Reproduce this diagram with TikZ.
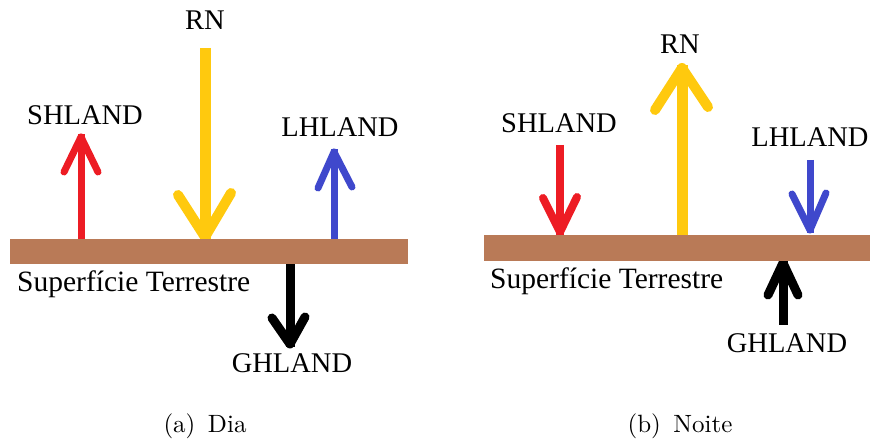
\documentclass[tikz,border=0pt]{standalone}
\usepackage{fontspec}
\newfontfamily\paintfont{Liberation Serif}
\definecolor{soil}{HTML}{B97A57}
\definecolor{fluxred}{HTML}{ED1C24}
\definecolor{fluxyellow}{HTML}{FFC90E}
\definecolor{fluxblue}{HTML}{3F48CC}
\begin{document}
\begin{tikzpicture}[x=1pt,y=-1pt,
  shaft/.style={line width=#1, line cap=butt},
  barbs/.style={line width=#1, line cap=round, line join=round},
  lbl/.style={font=\paintfont\fontsize{28.5}{30}\selectfont, anchor=base, inner sep=0pt},
  surf/.style={font=\paintfont\fontsize{29.5}{31}\selectfont, anchor=base west, inner sep=0pt},
  capt/.style={font=\fontsize{10}{12}\selectfont, scale=2.5, anchor=base, inner sep=0pt}]
\useasboundingbox (0,0) rectangle (870,443);

% ---------- (a) day ----------
% sensible heat, upward
\coordinate (sa0) at (81,239); \coordinate (sa1) at (81,137);
\draw[fluxred, shaft=7] (sa0) -- ([yshift=3]sa1);
\draw[fluxred, barbs=7] (64,172) -- (sa1) -- (98,172);
% net radiation, downward
\coordinate (ra0) at (205,48); \coordinate (ra1) at (205,237);
\draw[fluxyellow, shaft=11] (ra0) -- ([yshift=-3]ra1);
\draw[fluxyellow, barbs=10] (178,195) -- (ra1) -- (231,193);
% latent heat, upward
\coordinate (la0) at (334,239); \coordinate (la1) at (334,152);
\draw[fluxblue, shaft=7] (la0) -- ([yshift=3]la1);
\draw[fluxblue, barbs=7] (318,188) -- (la1) -- (352,187);
% ground heat, downward
\coordinate (ga0) at (290,262); \coordinate (ga1) at (290,344);
\draw[black, shaft=9] (ga0) -- ([yshift=-3]ga1);
\draw[black, barbs=9] (272,318) -- (ga1) -- (305,317);
% surface
\fill[soil] (10,239) rectangle (408,264);
\node[surf] (surfa) at (17,292) {Superfície Terrestre};
\node[lbl] (sha) at (85,125) {SHLAND};
\node[lbl] (rna) at (205,30) {RN};
\node[lbl] (lha) at (340,137) {LHLAND};
\node[lbl] (gha) at (292,373) {GHLAND};
\node[capt] (capa) at (205,432) {(a)\enspace Dia};

% ---------- (b) night ----------
% sensible heat, downward
\coordinate (sb0) at (560,145); \coordinate (sb1) at (560,232);
\draw[fluxred, shaft=8] (sb0) -- ([yshift=-3]sb1);
\draw[fluxred, barbs=8] (543,198) -- (sb1) -- (577,197);
% net radiation, upward
\coordinate (rb0) at (682,237); \coordinate (rb1) at (682,68);
\draw[fluxyellow, shaft=11] (rb0) -- ([yshift=3]rb1);
\draw[fluxyellow, barbs=10] (655,110) -- (rb1) -- (708,107);
% latent heat, downward
\coordinate (lb0) at (810,160); \coordinate (lb1) at (810,230);
\draw[fluxblue, shaft=7] (lb0) -- ([yshift=-3]lb1);
\draw[fluxblue, barbs=7] (792,194) -- (lb1) -- (826,193);
% ground heat, upward
\coordinate (gb0) at (783,325); \coordinate (gb1) at (783,263);
\draw[black, shaft=9] (gb0) -- ([yshift=3]gb1);
\draw[black, barbs=9] (768,295) -- (gb1) -- (798,295);
% surface
\fill[soil] (484,235) rectangle (870,261);
\node[surf] (surfb) at (490,289) {Superfície Terrestre};
\node[lbl] (shb) at (559,133) {SHLAND};
\node[lbl] (rnb) at (680,54) {RN};
\node[lbl] (lhb) at (810,147) {LHLAND};
\node[lbl] (ghb) at (787,353) {GHLAND};
\node[capt] (capb) at (680,432) {(b)\enspace Noite};
\end{tikzpicture}
\end{document}
